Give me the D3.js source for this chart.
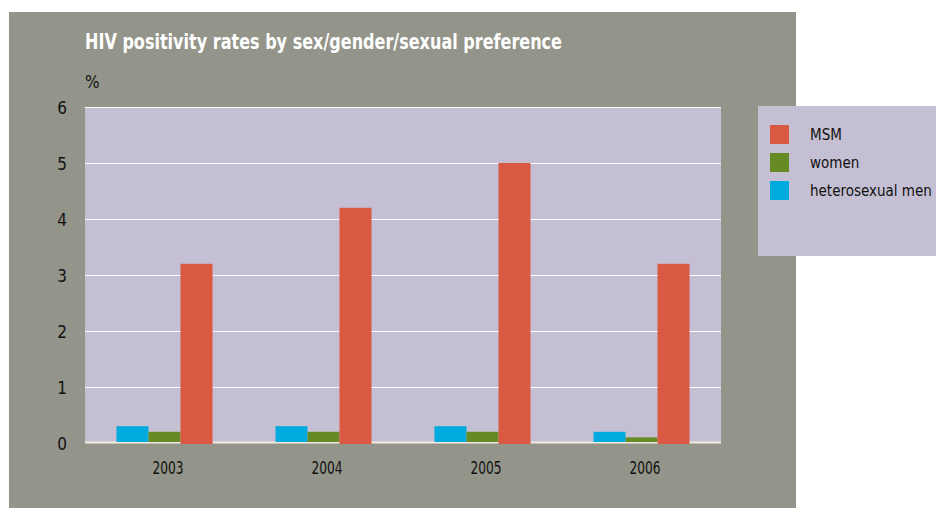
<!DOCTYPE html>
<html>
<head>
<meta charset="utf-8">
<script src="https://cdn.jsdelivr.net/npm/d3@7"></script>
<style>
  html, body { margin: 0; padding: 0; background: #ffffff; }
  svg { display: block; }
  text { font-family: "Liberation Sans Narrow", "DejaVu Sans Condensed", "DejaVu Sans", sans-serif; font-stretch: condensed; }
</style>
</head>
<body>
<svg id="chart" width="936" height="510"></svg>
<script>
// Chart data
const years = ["2003", "2004", "2005", "2006"];
const heteroMen = [0.3, 0.3, 0.3, 0.2];
const women = [0.2, 0.2, 0.2, 0.1];
const msm = [3.2, 4.2, 5.0, 3.2];
const yTicks = [0, 1, 2, 3, 4, 5, 6];

const seriesNames = ["heterosexual men", "women", "MSM"];
const seriesValues = [heteroMen, women, msm];
const seriesColors = ["#00aade", "#668a24", "#da5942"];
const legendOrder = ["MSM", "women", "heterosexual men"];

const svg = d3.select("#chart");

// Grey panel behind everything
svg.append("rect")
  .attr("x", 9).attr("y", 12).attr("width", 787).attr("height", 496)
  .attr("fill", "#94958a");

const plot = { left: 85, right: 721, top: 107, bottom: 443 };

const x0 = d3.scaleBand().domain(years).range([plot.left, plot.right]).paddingInner(0).paddingOuter(0);
const groupW = 96;
const x1 = d3.scaleBand().domain(seriesNames).range([0, groupW]);
const y = d3.scaleLinear().domain([0, 6]).range([plot.bottom, plot.top]);

// Plot background
svg.append("rect")
  .attr("x", plot.left).attr("y", plot.top)
  .attr("width", plot.right - plot.left).attr("height", plot.bottom - plot.top)
  .attr("fill", "#c4bfd2");

// Horizontal gridlines
svg.append("g")
  .selectAll("line")
  .data(yTicks.filter(d => d > 0))
  .join("line")
  .attr("x1", plot.left).attr("x2", plot.right)
  .attr("y1", d => y(d) + 0.5).attr("y2", d => y(d) + 0.5)
  .attr("stroke", "#ffffff").attr("stroke-width", 1);

// Baseline
svg.append("line")
  .attr("x1", plot.left).attr("x2", plot.right)
  .attr("y1", y(0) - 0.5).attr("y2", y(0) - 0.5)
  .attr("stroke", "#f1ebe2").attr("stroke-width", 2);

// Bars
const groups = svg.append("g")
  .selectAll("g")
  .data(years)
  .join("g")
  .attr("transform", d => `translate(${x0(d) + (x0.bandwidth() - groupW) / 2},0)`);

groups.selectAll("rect")
  .data((d, i) => seriesNames.map((s, k) => ({ s, v: seriesValues[k][i], c: seriesColors[k] })))
  .join("rect")
  .attr("x", d => x1(d.s))
  .attr("width", x1.bandwidth())
  .attr("y", d => y(d.v))
  .attr("height", d => y(0) - y(d.v) - (d.s === "MSM" ? -1 : 1))
  .attr("fill", d => d.c);

// Y axis labels
const yAxis = d3.axisLeft(y).tickValues(yTicks).tickSize(0).tickPadding(0).tickFormat(d3.format("d"));
const yg = svg.append("g").attr("transform", `translate(67,0)`).call(yAxis);
yg.select(".domain").remove();
yg.selectAll("text")
  .attr("font-size", 17).attr("fill", "#111").attr("dy", "0.36em")
  .style("font-family", null);

// X axis labels
const xAxis = d3.axisBottom(x0).tickSize(0).tickPadding(0);
const xg = svg.append("g").attr("transform", `translate(3.5,474)`).call(xAxis);
xg.select(".domain").remove();
xg.selectAll("text")
  .attr("font-size", 17).attr("fill", "#111").attr("dy", 0).attr("y", 0)
  .attr("textLength", 31).attr("lengthAdjust", "spacingAndGlyphs")
  .style("font-family", null);

// Title and unit
svg.append("text")
  .attr("x", 85).attr("y", 49)
  .attr("font-size", 21).attr("font-weight", "bold").attr("fill", "#ffffff")
  .attr("textLength", 477).attr("lengthAdjust", "spacingAndGlyphs")
  .text("HIV positivity rates by sex/gender/sexual preference");

svg.append("text")
  .attr("x", 85).attr("y", 88)
  .attr("font-size", 17).attr("fill", "#111")
  .text("%");

// Legend
svg.append("rect")
  .attr("x", 758).attr("y", 106).attr("width", 178).attr("height", 150)
  .attr("fill", "#c4bfd2");

const legend = svg.append("g")
  .selectAll("g")
  .data(legendOrder)
  .join("g")
  .attr("transform", (d, i) => `translate(770,${125 + i * 28})`);

legend.append("rect")
  .attr("width", 19).attr("height", 19)
  .attr("fill", d => seriesColors[seriesNames.indexOf(d)]);

legend.append("text")
  .attr("x", 40).attr("y", 15)
  .attr("font-size", 15).attr("fill", "#111")
  .text(d => d);
</script>
</body>
</html>
